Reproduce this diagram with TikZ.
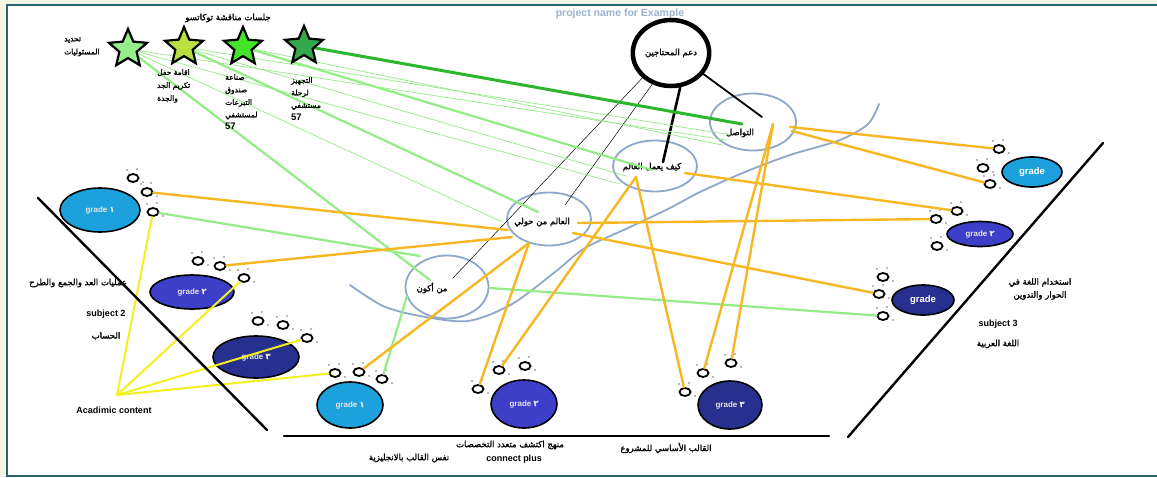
\documentclass[tikz,border=0pt]{standalone}
\usepackage{fontspec}
\setmainfont{Liberation Sans}
\newfontfamily\arabicfont[Script=Arabic,FakeBold=1.5]{DejaVu Sans}
\TeXXeTstate=1
\usetikzlibrary{shapes.geometric}
\definecolor{frameteal}{HTML}{2D6272}
\definecolor{pagecream}{HTML}{F4F5E3}
\definecolor{loopblue}{HTML}{8FA7C9}
\definecolor{linkgold}{HTML}{F6B822}
\definecolor{linklemon}{HTML}{F2F01E}
\definecolor{linkgreen}{HTML}{93EC86}
\definecolor{deepgreen}{HTML}{2DB62D}
\definecolor{gradecyan}{HTML}{1DA1DD}
\definecolor{grademid}{HTML}{3D3FC9}
\definecolor{gradenavy}{HTML}{27308F}
\definecolor{titleblue}{HTML}{9DB2CF}
\definecolor{starA}{HTML}{96EE8C}
\definecolor{starB}{HTML}{B8E040}
\definecolor{starC}{HTML}{44E42A}
\definecolor{starD}{HTML}{34A84C}
\newcommand{\ar}[1]{{\arabicfont\beginR#1\endR}}
\newcommand{\hospnum}{{\fontsize{9.5}{12.5}\selectfont\bfseries 57}}
\newcommand{\footprint}[3]{%
  \node[foot] (#1) at (#2,#3) {};
  \fill[black!55] (#2-6,#3-8) circle (0.8) (#2+4,#3-9) circle (0.8) (#2+10,#3+4) circle (0.8);}
\begin{document}
\begin{tikzpicture}[x=1pt,y=-1pt,line cap=round,
foot/.style={draw,ellipse,line width=1.8pt,minimum width=11pt,minimum height=8pt,inner sep=0pt},
grade/.style={draw,ellipse,line width=1.6pt,inner sep=0pt,text=white!80!gray,font=\fontsize{8}{9}\selectfont\bfseries},
conceptloop/.style={draw=loopblue,ellipse,line width=1.8pt,inner sep=0pt},
arlabel/.style={font=\fontsize{8.5}{13}\selectfont,inner sep=1pt},
starlabel/.style={font=\fontsize{7.5}{13}\selectfont,inner sep=1pt,align=left},
enlabel/.style={font=\fontsize{9}{11}\selectfont\bfseries,inner sep=1pt},
goal/.style={star,star points=5,star point ratio=2.2,draw,line width=2.2pt,minimum size=40pt,inner sep=0pt},
thingreen/.style={linkgreen,line width=0.7pt},
widegreen/.style={linkgreen,line width=2.2pt},
goldlink/.style={linkgold,line width=2.4pt},
lemonlink/.style={linklemon,line width=2pt},
divider/.style={line width=2.4pt}]
\useasboundingbox (0,0) rectangle (1157,477);
\fill[pagecream] (0,0) rectangle (1157,477);
\fill[white] (7,5) rectangle (1157,476);
\draw[frameteal,line width=2pt] (1157,5) -- (7,5) -- (7,476) -- (1157,476);
\node[font=\fontsize{10.5}{12}\selectfont\bfseries,text=titleblue] (title) at (620,14) {project name for Example};

% the four loops of the learning chain
\node[conceptloop,minimum width=86pt,minimum height=57pt] (twloop) at (753,122) {};
\node[conceptloop,minimum width=84pt,minimum height=51pt] (kyloop) at (655,166) {};
\node[conceptloop,minimum width=84pt,minimum height=53pt] (alloop) at (549,219) {};
\node[conceptloop,minimum width=83pt,minimum height=63pt] (mnloop) at (447,287) {};
\draw[loopblue,line width=1.8pt] plot[smooth] coordinates {(350,285) (383,306) (420,316) (468,321) (512,304) (555,272) (585,248) (628,228) (670,208) (700,192) (745,172) (790,155) (840,140) (868,124) (879,104)};
\node[arlabel] (tw) at (740,133) {\ar{التواصل}};
\node[arlabel] (ky) at (652,167) {\ar{كيف يعمل العالم}};
\node[arlabel] (al) at (542,222) {\ar{العالم من حولي}};
\node[arlabel] (mn) at (432,288) {\ar{من أكون}};
\coordinate (twA) at (742,124); \coordinate (twB) at (762,117); \coordinate (twC) at (790,127);
\coordinate (twD) at (773,124); \coordinate (twE) at (792,131);
\coordinate (kyA) at (652,170); \coordinate (kyB) at (663,162); \coordinate (kyC) at (636,177); \coordinate (kyD) at (685,173);
\coordinate (alA) at (538,212); \coordinate (alB) at (565,205); \coordinate (alC) at (578,223); \coordinate (alD) at (573,233);
\coordinate (alE) at (508,230); \coordinate (alF) at (512,237); \coordinate (alG) at (529,243);
\coordinate (mnA) at (430,280); \coordinate (mnB) at (453,278); \coordinate (mnC) at (420,256);
\coordinate (mnD) at (407,296); \coordinate (mnE) at (490,288);

% support circle
\node[ellipse,draw,line width=4.5pt,minimum width=76pt,minimum height=66pt,inner sep=0pt,arlabel] (dc) at (671,53) {\ar{دعم المحتاجين}};
\draw[line width=0.5pt] (dc.221) -- (mnB);
\draw[line width=0.5pt] (dc.239) -- (alB);
\draw[line width=2.6pt] (dc.285) -- (kyB);
\draw[line width=1.8pt] (dc.327) -- (twB);

% grades
\node[grade,fill=gradecyan,minimum width=80pt,minimum height=44pt] (g1L) at (100,210) {grade \arabicfont ١};
\node[grade,fill=grademid,minimum width=84pt,minimum height=34pt] (g2L) at (192,292) {grade \arabicfont ٢};
\node[grade,fill=gradenavy,minimum width=86pt,minimum height=42pt] (g3L) at (256,357) {grade \arabicfont ٣};
\node[grade,fill=gradecyan,minimum width=66pt,minimum height=46pt] (g1B) at (350,405) {grade \arabicfont ١};
\node[grade,fill=grademid,minimum width=66pt,minimum height=48pt] (g2B) at (524,404) {grade \arabicfont ٢};
\node[grade,fill=gradenavy,minimum width=64pt,minimum height=48pt] (g3B) at (730,405) {grade \arabicfont ٣};
\node[grade,fill=gradecyan,minimum width=60pt,minimum height=30pt,text=white,font=\fontsize{9.5}{10}\selectfont\bfseries] (g1R) at (1032,172) {grade};
\node[grade,fill=grademid,minimum width=66pt,minimum height=25pt] (g2R) at (980,234) {grade \arabicfont ٢};
\node[grade,fill=gradenavy,minimum width=62pt,minimum height=30pt,text=white,font=\fontsize{9.5}{10}\selectfont\bfseries] (g3R) at (923,300) {grade};

% footprints
\footprint{fa1}{133}{178} \footprint{fa2}{147}{192} \footprint{fa3}{153}{212}
\footprint{fb1}{198}{261} \footprint{fb2}{220}{266} \footprint{fb3}{244}{278}
\footprint{fc1}{258}{321} \footprint{fc2}{283}{325} \footprint{fc3}{307}{338}
\footprint{fd1}{335}{373} \footprint{fd2}{359}{372} \footprint{fd3}{382}{379}
\footprint{fe1}{478}{389} \footprint{fe2}{499}{370} \footprint{fe3}{525}{366}
\footprint{ff1}{685}{392} \footprint{ff2}{703}{373} \footprint{ff3}{731}{363}
\footprint{fg1}{999}{149} \footprint{fg2}{983}{168} \footprint{fg3}{990}{184}
\footprint{fh1}{957}{211} \footprint{fh2}{936}{219} \footprint{fh3}{937}{246}
\footprint{fi1}{883}{277} \footprint{fi2}{879}{294} \footprint{fi3}{883}{316}

% tokatsu sessions
\coordinate (s1) at (128,49); \coordinate (s2) at (184,47); \coordinate (s3) at (243,47); \coordinate (s4) at (304,46);
\coordinate (twT1) at (726,140); \coordinate (twT2) at (731,135); \coordinate (twT3) at (722,145);
\coordinate (kyT1) at (620,184); \coordinate (kyT2) at (626,176); \coordinate (alT1) at (502,222);
\draw[thingreen] (s1) -- (twT1);
\draw[thingreen] (s1) -- (kyT1);
\draw[thingreen] (s1) -- (alT1);
\draw[thingreen] (s2) -- (twT2);
\draw[thingreen] (s2) -- (kyT2);
\draw[thingreen] (s3) -- (twT3);
\draw[widegreen] (s1) -- (mnA);
\draw[widegreen] (s2) -- (alA);
\draw[widegreen] (s3) -- (kyA);
\draw[deepgreen,line width=3pt] (s4) -- (twA);
\draw[widegreen] (fa3) -- (mnC);
\draw[widegreen] (fd3) -- (mnD);
\draw[widegreen] (mnE) -- (fi3);

% content links
\draw[goldlink] (fa2) -- (alE);
\draw[goldlink] (fb2) -- (alF);
\draw[goldlink] (fd2) -- (alG);
\draw[goldlink] (fe1) -- (alG);
\draw[goldlink] (alC) -- (fh2);
\draw[goldlink] (alD) -- (fi2);
\draw[goldlink] (fe2) -- (kyC);
\draw[goldlink] (ff1) -- (kyC);
\draw[goldlink] (kyD) -- (fh1);
\draw[goldlink] (twC) -- (fg1);
\draw[goldlink] (twE) -- (fg3);
\draw[goldlink] (ff2) -- (twD);
\draw[goldlink] (ff3) -- (twD);

% academic content
\coordinate (acad) at (117,395);
\draw[lemonlink] (acad) -- (fa3);
\draw[lemonlink] (acad) -- (fb3);
\draw[lemonlink] (acad) -- (fc3);
\draw[lemonlink] (acad) -- (fd1);
\node[enlabel] (acadtext) at (114,410) {Acadimic content};

% subject dividers
\draw[divider] (38,198) -- (267,430);
\draw[divider] (284,436) -- (829,436);
\draw[divider] (1103,143) -- (848,437);

% stars
\node[goal,fill=starA] (star1) at (s1) {};
\node[goal,fill=starB] (star2) at (s2) {};
\node[goal,fill=starC] (star3) at (s3) {};
\node[goal,fill=starD] (star4) at (s4) {};
\node[arlabel] (sessions) at (228,18) {\ar{جلسات مناقشة توكاتسو}};
\node[starlabel,anchor=west] (roles) at (63,47) {\ar{تحديد}\\\ar{المسئوليات}};
\node[starlabel,anchor=north west] (party) at (156,68) {\ar{اقامة حفل}\\\ar{تكريم الجد}\\\ar{والجدة}};
\node[starlabel,font=\fontsize{7.5}{12.5}\selectfont,anchor=north west] (fund) at (224,73) {\ar{صناعة}\\\ar{صندوق}\\\ar{التبرعات}\\\ar{لمستشفي}\\\hospnum};
\node[starlabel,font=\fontsize{7.5}{12.5}\selectfont,anchor=north west] (trip) at (290,76) {\ar{التجهيز}\\\ar{لرحلة}\\\ar{مستشفي}\\\hospnum};

% subject texts
\node[arlabel] (math1) at (78,283) {\ar{عمليات العد والجمع والطرح}};
\node[enlabel] (subj2) at (106,314) {subject 2};
\node[arlabel] (math2) at (106,336) {\ar{الحساب}};
\node[arlabel,align=center] (lang1) at (1040,289) {\ar{استخدام اللغة في}\\\ar{الحوار والتدوين}};
\node[enlabel] (subj3) at (998,324) {subject 3};
\node[arlabel] (lang2) at (998,344) {\ar{اللغة العربية}};
\node[arlabel] (eng) at (409,458) {\ar{نفس القالب بالانجليزية}};
\node[arlabel] (disc) at (510,445) {\ar{منهج اكتشف متعدد التخصصات}};
\node[enlabel] (plus) at (514,459) {connect plus};
\node[arlabel] (base) at (666,448) {\ar{القالب الأساسي للمشروع}};
\end{tikzpicture}
\end{document}
